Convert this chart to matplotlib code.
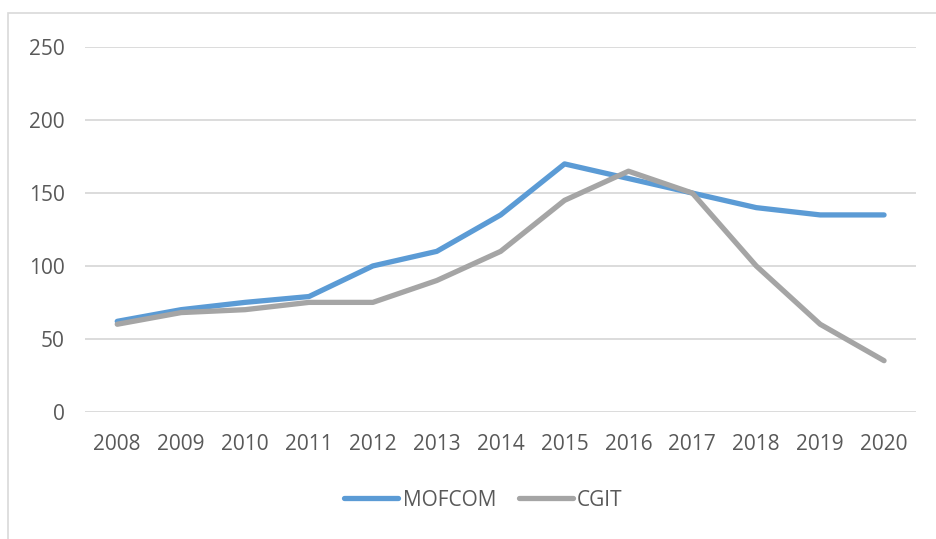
import matplotlib.pyplot as plt
from matplotlib.patches import Rectangle

# values
years = ["2008", "2009", "2010", "2011", "2012", "2013", "2014",
         "2015", "2016", "2017", "2018", "2019", "2020"]
mofcom = [62, 70, 75, 79, 100, 110, 135, 170, 160, 150, 140, 135, 135]
cgit = [60, 68, 70, 75, 75, 90, 110, 145, 165, 150, 100, 60, 35]
y_ticks = [0, 50, 100, 150, 200, 250]

text_color = "#595959"
grid_color = "#D9D9D9"

plt.rcParams["font.family"] = ["Open Sans", "DejaVu Sans"]

fig = plt.figure(figsize=(9.37, 5.39), dpi=100)

# chart-area frame (top and left edges visible, rest cropped)
fig.patches.append(Rectangle((8 / 937, -0.1), 1.2, 1.1 - 13 / 539,
                             transform=fig.transFigure, fill=False,
                             edgecolor=grid_color, linewidth=1.2))

ax = fig.add_axes([85.3 / 937, 1 - 411.7 / 539,
                   (916 - 85.3) / 937, (411.7 - 47.3) / 539])

x = list(range(len(years)))
ax.plot(x, mofcom, color="#5B9BD5", linewidth=3.8, solid_capstyle="round",
        solid_joinstyle="round", label="MOFCOM", zorder=3)
ax.plot(x, cgit, color="#A5A5A5", linewidth=3.8, solid_capstyle="round",
        solid_joinstyle="round", label="CGIT", zorder=3)

ax.set_xlim(-0.5, len(years) - 0.5)
ax.set_ylim(0, 250)
ax.set_xticks(x)
ax.set_xticklabels(years)
ax.set_yticks(y_ticks)

for s in ax.spines.values():
    s.set_visible(False)
ax.yaxis.grid(True, color=grid_color, linewidth=1.3)
ax.set_axisbelow(True)
ax.tick_params(axis="both", length=0, labelsize=15, colors=text_color)
ax.tick_params(axis="x", pad=16)
ax.tick_params(axis="y", pad=15)

fig.legend(loc="center", bbox_to_anchor=(0.516, 1 - 500 / 539), ncol=2,
           frameon=False, fontsize=15, labelcolor=text_color,
           handlelength=2.6, handletextpad=0.2, columnspacing=1.1)

fig.savefig("out.png", dpi=100)
